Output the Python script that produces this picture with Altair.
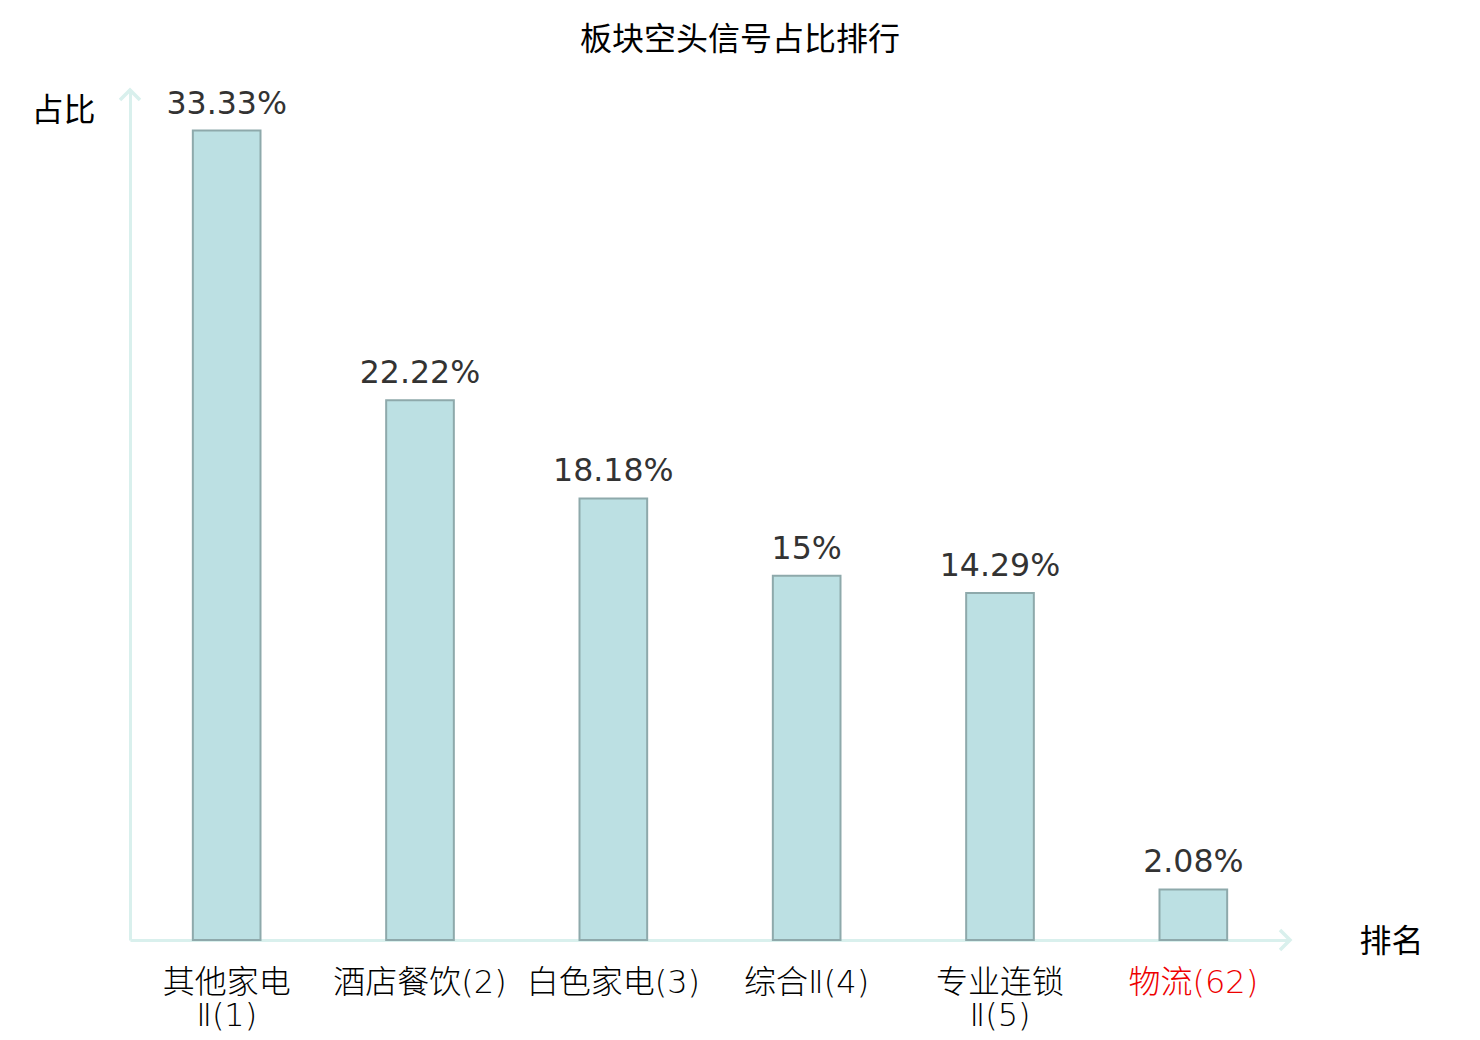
import altair as alt
import pandas as pd

categories = ["其他家电\nⅡ(1)", "酒店餐饮(2)", "白色家电(3)", "综合Ⅱ(4)", "专业连锁\nⅡ(5)", "物流(62)"]
values = [33.33, 22.22, 18.18, 15.0, 14.29, 2.08]
highlight = "物流(62)"

df = pd.DataFrame({"cat": categories, "val": values})
df["txt"] = [f"{v:g}%" for v in values]

AXIS_COLOR = "#d9f0ed"
CJK = "Noto Sans CJK SC"
LABEL_FONT = "'DejaVu Sans', 'Noto Sans CJK SC'"

x_enc = alt.X(
    "cat:N",
    sort=categories,
    scale=alt.Scale(paddingInner=0.65, paddingOuter=0.325),
    axis=alt.Axis(
        title="排名",
        titleFont=CJK,
        titleFontSize=32,
        titleFontWeight="normal",
        titleColor="black",
        titleX=1261,
        titleY=1,
        titleAlign="center",
        titleBaseline="middle",
        labelAngle=0,
        labelFont=LABEL_FONT,
        labelFontWeight=200,
        labelFontSize=32,
        labelLineHeight=33,
        labelBaseline="top",
        labelPadding=27,
        labelExpr="split(datum.label, '\\n')",
        labelColor=alt.ExprRef(expr=f"datum.value == '{highlight}' ? '#ee0000' : '#000000'"),
        ticks=False,
        tickSize=0,
        domainColor=AXIS_COLOR,
        domainWidth=3,
        grid=False,
    ),
)

y_enc = alt.Y(
    "val:Q",
    scale=alt.Scale(domain=[0, 35], nice=False),
    axis=alt.Axis(
        title="占比",
        titleFont=CJK,
        titleFontSize=32,
        titleFontWeight="normal",
        titleColor="black",
        titleAngle=0,
        titleX=-67,
        titleY=20,
        titleAlign="center",
        titleBaseline="middle",
        labels=False,
        ticks=False,
        grid=False,
        domainColor=AXIS_COLOR,
        domainWidth=3,
    ),
)

base = alt.Chart(df)

bars = base.mark_bar(fill="#bce0e3", stroke="#8ea9ab", strokeWidth=2).encode(x=x_enc, y=y_enc)

texts = base.mark_text(
    dy=-17, baseline="alphabetic", fontSize=31.6, font="DejaVu Sans", color="#333333"
).encode(x=alt.X("cat:N", sort=categories), y="val:Q", text="txt:N")

up_arrow = alt.Chart(pd.DataFrame({"a": [0]})).mark_point(
    shape="M-1,1L0,0L1,1", filled=False, stroke=AXIS_COLOR, strokeWidth=3.5, size=400, opacity=1
).encode(x=alt.value(0), y=alt.value(0))

right_arrow = alt.Chart(pd.DataFrame({"a": [0]})).mark_point(
    shape="M-1,-1L0,0L-1,1", filled=False, stroke=AXIS_COLOR, strokeWidth=3.5, size=400, opacity=1
).encode(x=alt.value(1160), y=alt.value(850))

chart = (
    alt.layer(bars, texts, up_arrow, right_arrow)
    .properties(
        width=1160,
        height=850,
        autosize=alt.AutoSizeParams(type="none"),
        padding={"left": 122, "top": 82, "right": 182, "bottom": 92},
        title=alt.TitleParams(
            "板块空头信号占比排行",
            font=CJK,
            fontSize=32,
            fontWeight="normal",
            color="black",
            anchor="middle",
            dx=30,
            offset=26,
        ),
    )
    .configure_view(stroke=None)
)

chart.save("out.html", embed_options={"renderer": "svg", "actions": False})
